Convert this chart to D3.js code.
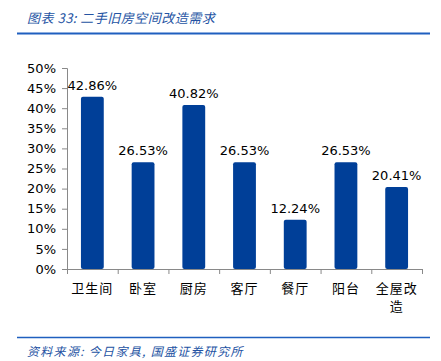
<!DOCTYPE html>
<html>
<head>
<meta charset="utf-8">
<script src="https://cdn.jsdelivr.net/npm/d3@7"></script>
<style>
  body { margin: 0; background: #fff; }
  svg text { font-family: "DejaVu Sans", Verdana, sans-serif; }
  .cjk { font-family: "Noto Sans CJK SC", sans-serif; }
</style>
</head>
<body>
<div id="chart"></div>
<script>
// data
var categories = ["卫生间", "卧室", "厨房", "客厅", "餐厅", "阳台", "全屋改造"];
var values = [42.86, 26.53, 40.82, 26.53, 12.24, 26.53, 20.41];
var yTicks = [0, 5, 10, 15, 20, 25, 30, 35, 40, 45, 50];

var W = 441, H = 361;
var margin = {top: 68, right: 19, bottom: 92, left: 67},
    width = W - margin.left - margin.right,
    height = H - margin.top - margin.bottom;

var svg = d3.select("#chart").append("svg")
    .attr("width", W)
    .attr("height", H);

// title + rules
svg.append("text")
    .attr("class", "cjk")
    .attr("x", 27).attr("y", 23)
    .style("font-size", "13px")
    .style("font-style", "italic")
    .style("letter-spacing", "0.5px")
    .attr("fill", "#2453a3")
    .text("图表 33:  二手旧房空间改造需求");

svg.append("line")
    .attr("x1", 17).attr("x2", 430)
    .attr("y1", 33.5).attr("y2", 33.5)
    .attr("stroke", "#1f5fbf").attr("stroke-width", 2);

svg.append("line")
    .attr("x1", 17).attr("x2", 430)
    .attr("y1", 337.5).attr("y2", 337.5)
    .attr("stroke", "#1f5fbf").attr("stroke-width", 1.5);

svg.append("text")
    .attr("class", "cjk")
    .attr("x", 27).attr("y", 356)
    .style("font-size", "12px")
    .style("font-style", "italic")
    .style("letter-spacing", "1.3px")
    .attr("fill", "#2453a3")
    .text("资料来源:  今日家具,  国盛证券研究所");

var g = svg.append("g")
    .attr("transform", "translate(" + margin.left + "," + margin.top + ")");

var x = d3.scaleBand()
    .domain(categories)
    .range([0, width])
    .paddingInner(0.55)
    .paddingOuter(0.275);

var y = d3.scaleLinear()
    .domain([0, 50])
    .range([height, 0]);

// y axis
var yAxis = g.append("g")
    .call(d3.axisLeft(y).tickValues(yTicks).tickSize(5).tickPadding(6)
        .tickFormat(function (d) { return d + "%"; }));
yAxis.selectAll("path, line").attr("stroke", "#898989");
yAxis.selectAll("text")
    .style("font-size", "13px")
    .style("font-family", "'DejaVu Sans', Verdana, sans-serif")
    .attr("fill", "#000");

// x axis line with ticks between categories
g.append("line")
    .attr("x1", 0).attr("x2", width)
    .attr("y1", height + 0.5).attr("y2", height + 0.5)
    .attr("stroke", "#898989");
var boundaries = d3.range(categories.length + 1).map(function (i) { return i * width / categories.length; });
g.selectAll(".xtick")
    .data(boundaries)
    .enter().append("line")
    .attr("x1", function (d) { return d + 0.5; })
    .attr("x2", function (d) { return d + 0.5; })
    .attr("y1", height).attr("y2", height + 5)
    .attr("stroke", "#898989");

// bars
g.selectAll(".bar")
    .data(values)
    .enter().append("rect")
    .attr("x", function (d, i) { return x(categories[i]); })
    .attr("y", function (d) { return y(d); })
    .attr("width", x.bandwidth())
    .attr("height", function (d) { return height - y(d); })
    .attr("rx", 2)
    .attr("fill", "#003f98");

// value labels
g.selectAll(".lbl")
    .data(values)
    .enter().append("text")
    .attr("x", function (d, i) { return x(categories[i]) + x.bandwidth() / 2; })
    .attr("y", function (d) { return y(d) - 7; })
    .attr("text-anchor", "middle")
    .style("font-size", "13px")
    .attr("fill", "#000")
    .text(function (d) { return d.toFixed(2) + "%"; });

// category labels (wrap long ones)
categories.forEach(function (c, i) {
    var lines = c.length > 3 ? [c.slice(0, 3), c.slice(3)] : [c];
    var t = g.append("text")
        .attr("class", "cjk")
        .attr("text-anchor", "middle")
        .attr("x", x(c) + x.bandwidth() / 2)
        .attr("y", height + 24)
        .style("font-size", "13px")
        .style("letter-spacing", "1px")
        .attr("fill", "#000");
    lines.forEach(function (l, j) {
        t.append("tspan")
            .attr("x", x(c) + x.bandwidth() / 2)
            .attr("dy", j === 0 ? 0 : 18)
            .text(l);
    });
});
</script>
</body>
</html>
